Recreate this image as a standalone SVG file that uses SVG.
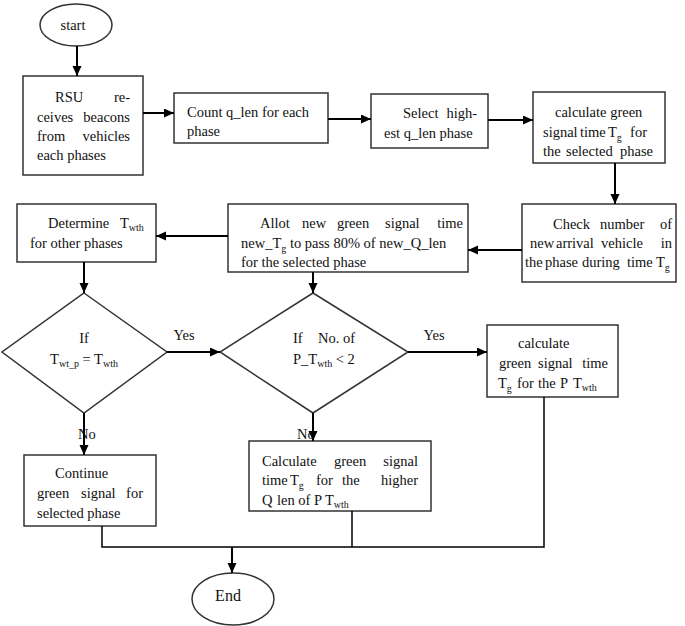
<svg xmlns="http://www.w3.org/2000/svg" width="685" height="626" viewBox="0 0 685 626">
<style>
.box{fill:#fff;stroke:#333;stroke-width:1.5}
.t{font-family:"Liberation Serif","Times New Roman",serif;font-size:14.5px;fill:#111}
.e{text-anchor:end}
.m{text-anchor:middle}
.s{font-size:10px}
.c{fill:none;stroke:#000;stroke-width:2}
</style>
<defs>
<marker id="ah" markerUnits="userSpaceOnUse" markerWidth="11" markerHeight="10" refX="10" refY="4.5" orient="auto">
<path d="M0,0 L10,4.5 L0,9 z" fill="#000"/>
</marker>
</defs>
<g id="start">
<ellipse class="box" cx="76" cy="25" rx="36" ry="21"/>
<text class="t m" x="73" y="30">start</text>
</g>
<g id="rsu">
<rect class="box" x="23" y="76" width="120" height="99"/>
<text class="t" x="55" y="102">RSU</text><text class="t e" x="130" y="102">re-</text>
<text class="t" x="37" y="122">ceives</text><text class="t e" x="130" y="122">beacons</text>
<text class="t" x="37" y="141">from</text><text class="t e" x="130" y="141">vehicles</text>
<text class="t" x="37" y="160">each phases</text>
</g>
<g id="count">
<rect class="box" x="174" y="93" width="154" height="50"/>
<text class="t" x="187" y="117">Count q_len for each</text>
<text class="t" x="187" y="136">phase</text>
</g>
<g id="select">
<rect class="box" x="371" y="94" width="117" height="54"/>
<text class="t" x="403" y="118">Select</text><text class="t e" x="477" y="118">high-</text>
<text class="t" x="384" y="138">est q_len phase</text>
</g>
<g id="calc">
<rect class="box" x="533" y="92" width="132" height="71"/>
<text class="t" x="555" y="117">calculate green</text>
<text class="t" x="543" y="137">signal</text><text class="t" x="580" y="137">time</text><text class="t" x="608" y="137">T<tspan class="s" dy="4">g</tspan></text><text class="t e" x="647" y="137">for</text>
<text class="t" x="543" y="156">the</text><text class="t" x="566" y="156">selected</text><text class="t e" x="653" y="156">phase</text>
</g>
<g id="check">
<rect class="box" x="522" y="204" width="154" height="78"/>
<text class="t" x="553" y="229">Check</text><text class="t" x="600" y="229">number</text><text class="t e" x="672" y="229">of</text>
<text class="t" x="530" y="248">new</text><text class="t" x="556" y="248">arrival</text><text class="t" x="601" y="248">vehicle</text><text class="t e" x="672" y="248">in</text>
<text class="t" x="525" y="267">the</text><text class="t" x="545" y="267">phase</text><text class="t" x="582" y="267">during</text><text class="t" x="627" y="267">time</text><text class="t" x="656" y="267">T<tspan class="s" dy="4">g</tspan></text>
</g>
<g id="allot">
<rect class="box" x="228" y="204" width="240" height="68"/>
<text class="t" x="260" y="228">Allot</text><text class="t" x="302" y="228">new</text><text class="t" x="337" y="228">green</text><text class="t" x="385" y="228">signal</text><text class="t e" x="463" y="228">time</text>
<text class="t" x="241" y="248">new_T<tspan class="s" dy="4">g</tspan><tspan dy="-4"> to pass 80% of new_Q_len</tspan></text>
<text class="t" x="241" y="267">for the selected phase</text>
</g>
<g id="determine">
<rect class="box" x="17" y="204" width="139" height="58"/>
<text class="t" x="48" y="228">Determine</text><text class="t" x="120" y="228">T<tspan class="s" dy="3">wth</tspan></text>
<text class="t" x="30" y="248">for other phases</text>
</g>
<g id="decision1">
<polygon class="box" points="84,293 167,352 84,413 2,352"/>
<text class="t m" x="84" y="343">If</text>
<text class="t m" x="84" y="364">T<tspan class="s" dy="3">wt_p</tspan><tspan dy="-3"> = T</tspan><tspan class="s" dy="3">wth</tspan></text>
</g>
<g id="decision2">
<polygon class="box" points="313,293 408,352 313,413 220,352"/>
<text class="t" x="293" y="343">If</text><text class="t" x="318" y="343">No. of</text>
<text class="t" x="293" y="364">P_T<tspan class="s" dy="3">wth</tspan><tspan dy="-3"> &lt; 2</tspan></text>
</g>
<g id="ptwth">
<rect class="box" x="487" y="325" width="131" height="72"/>
<text class="t" x="518" y="348">calculate</text>
<text class="t" x="499" y="368">green</text><text class="t" x="538" y="368">signal</text><text class="t e" x="608" y="368">time</text>
<text class="t" x="498" y="388">T<tspan class="s" dy="4">g</tspan></text><text class="t" x="517" y="388">for</text><text class="t" x="538" y="388">the</text><text class="t" x="560" y="388">P</text><text class="t" x="573" y="388">T<tspan class="s" dy="3">wth</tspan></text>
</g>
<g id="higher">
<rect class="box" x="249" y="441" width="182" height="70"/>
<text class="t" x="262" y="466">Calculate</text><text class="t" x="334" y="466">green</text><text class="t e" x="418" y="466">signal</text>
<text class="t" x="262" y="485">time</text><text class="t" x="290" y="485">T<tspan class="s" dy="4">g</tspan></text><text class="t" x="316" y="485">for</text><text class="t" x="342" y="485">the</text><text class="t e" x="418" y="485">higher</text>
<text class="t" x="262" y="505">Q</text><text class="t" x="277" y="505">len of P</text><text class="t" x="325" y="505">T<tspan class="s" dy="3">wth</tspan></text>
</g>
<g id="continue">
<rect class="box" x="24" y="455" width="132" height="71"/>
<text class="t" x="55" y="478">Continue</text>
<text class="t" x="37" y="498">green</text><text class="t" x="81" y="498">signal</text><text class="t e" x="143" y="498">for</text>
<text class="t" x="37" y="518">selected phase</text>
</g>
<g id="end">
<ellipse class="box" cx="233" cy="599" rx="41" ry="26"/>
<text class="t m" x="228" y="601" style="font-size:16px">End</text>
</g>
<g id="labels">
<text class="t m" x="184" y="340">Yes</text>
<text class="t m" x="434" y="340">Yes</text>
<text class="t" x="78" y="439">No</text>
<text class="t" x="297" y="439">No</text>
</g>
<g id="connectors">
<line class="c" x1="77" y1="46" x2="77" y2="76" marker-end="url(#ah)"/>
<line class="c" x1="143" y1="113" x2="174" y2="113" marker-end="url(#ah)"/>
<line class="c" x1="328" y1="119" x2="371" y2="119" marker-end="url(#ah)"/>
<line class="c" x1="488" y1="120" x2="533" y2="120" marker-end="url(#ah)"/>
<line class="c" x1="615" y1="163" x2="615" y2="204" marker-end="url(#ah)"/>
<line class="c" x1="522" y1="250" x2="468" y2="250" marker-end="url(#ah)"/>
<line class="c" x1="228" y1="236" x2="156" y2="236" marker-end="url(#ah)"/>
<line class="c" x1="84" y1="262" x2="84" y2="293" marker-end="url(#ah)"/>
<line class="c" x1="313" y1="272" x2="313" y2="293" marker-end="url(#ah)"/>
<line class="c" x1="167" y1="352" x2="220" y2="352" marker-end="url(#ah)"/>
<line class="c" x1="408" y1="352" x2="487" y2="352" marker-end="url(#ah)"/>
<line class="c" x1="84" y1="413" x2="84" y2="455" marker-end="url(#ah)"/>
<line class="c" x1="313" y1="413" x2="313" y2="441" marker-end="url(#ah)"/>
<polyline class="c" style="stroke-width:1.5" points="102,526 102,547 544,547 544,397"/>
<line class="c" style="stroke-width:1.5" x1="352" y1="511" x2="352" y2="547"/>
<line class="c" x1="232" y1="547" x2="232" y2="573" marker-end="url(#ah)"/>
</g>
</svg>
